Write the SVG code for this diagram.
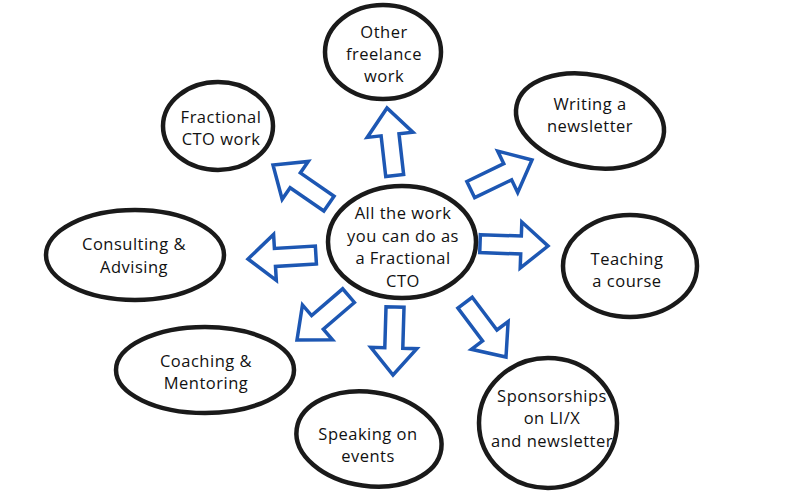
<svg xmlns="http://www.w3.org/2000/svg" width="800" height="500" viewBox="0 0 800 500">
<style>
  .node ellipse { fill: #ffffff; stroke: #1a1a1a; stroke-width: 4.5; }
  .node text { font-family: "Open Sans", "DejaVu Sans", sans-serif; font-size: 16.5px; letter-spacing: 0.5px; fill: #111111; text-anchor: middle; }
  .arrow { fill: #ffffff; stroke: #1d57b3; stroke-width: 3.5; stroke-linejoin: miter; }
</style>
<defs>
  <path id="arr" d="M-68,-9 L-27,-9 L-27,-23 L0,0 L-27,23 L-27,9 L-68,9 Z"/>
</defs>
<rect width="800" height="500" fill="#ffffff"/>

<g id="connectors">
  <use href="#arr" class="arrow" transform="translate(387,108) rotate(-96.5)"/>
  <use href="#arr" class="arrow" transform="translate(273,165) rotate(-145.4)"/>
  <use href="#arr" class="arrow" transform="translate(532,160) rotate(-25.8)"/>
  <use href="#arr" class="arrow" transform="translate(248,259) rotate(176.6)"/>
  <use href="#arr" class="arrow" transform="translate(548,246) rotate(2)"/>
  <use href="#arr" class="arrow" transform="translate(297,340) rotate(139.3)"/>
  <use href="#arr" class="arrow" transform="translate(393,375) rotate(91.7)"/>
  <use href="#arr" class="arrow" transform="translate(506,357) rotate(53)"/>
</g>

<g id="center" class="node">
  <ellipse cx="402" cy="242" rx="74" ry="56"/>
  <text x="403" y="219">All the work</text>
  <text x="403" y="242">you can do as</text>
  <text x="403" y="264">a Fractional</text>
  <text x="403" y="287">CTO</text>
</g>

<g id="other-freelance" class="node">
  <ellipse cx="383" cy="52" rx="58" ry="47"/>
  <text x="384" y="38">Other</text>
  <text x="384" y="60">freelance</text>
  <text x="384" y="82">work</text>
</g>

<g id="fractional-cto" class="node">
  <ellipse cx="218" cy="126" rx="55" ry="44"/>
  <text x="221" y="123">Fractional</text>
  <text x="221" y="145">CTO work</text>
</g>

<g id="newsletter" class="node">
  <ellipse cx="590" cy="121" rx="75" ry="46" transform="rotate(12 590 121)"/>
  <text x="590" y="110">Writing a</text>
  <text x="590" y="132">newsletter</text>
</g>

<g id="consulting" class="node">
  <ellipse cx="135" cy="255" rx="89" ry="45"/>
  <text x="134" y="250">Consulting &amp;</text>
  <text x="134" y="273">Advising</text>
</g>

<g id="teaching" class="node">
  <ellipse cx="630" cy="266" rx="67" ry="51"/>
  <text x="627" y="265">Teaching</text>
  <text x="627" y="287">a course</text>
</g>

<g id="coaching" class="node">
  <ellipse cx="205" cy="370" rx="89" ry="43"/>
  <text x="206" y="367">Coaching &amp;</text>
  <text x="206" y="389">Mentoring</text>
</g>

<g id="speaking" class="node">
  <ellipse cx="369" cy="439" rx="73" ry="47" transform="rotate(8 369 439)"/>
  <text x="368" y="440">Speaking on</text>
  <text x="368" y="462">events</text>
</g>

<g id="sponsorships" class="node">
  <ellipse cx="548" cy="423" rx="69" ry="65"/>
  <text x="552" y="402">Sponsorships</text>
  <text x="552" y="424">on LI/X</text>
  <text x="552" y="447">and newsletter</text>
</g>
</svg>
